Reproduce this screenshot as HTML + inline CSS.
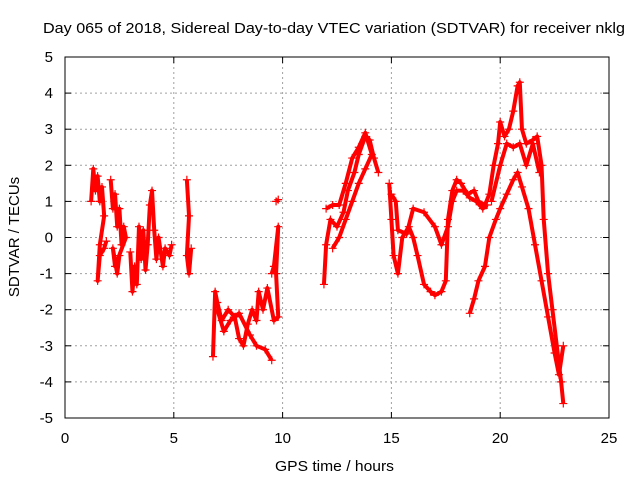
<!DOCTYPE html>
<html><head><meta charset="utf-8"><style>
body{margin:0;background:#fff;width:640px;height:480px;overflow:hidden}
text{font-family:"Liberation Sans",sans-serif;font-size:15px;fill:#000}
</style></head><body>
<svg id="chart" width="640" height="480" xmlns="http://www.w3.org/2000/svg">
<text x="43" y="33" textLength="582" lengthAdjust="spacingAndGlyphs">Day 065 of 2018, Sidereal Day-to-day VTEC variation (SDTVAR) for receiver nklg</text>
<g id="grid"></g>
<g id="axes"></g>
<g id="series"></g>
<rect x="65" y="57" width="544" height="361" fill="none" stroke="#000"/>
<text x="275" y="471" textLength="119" lengthAdjust="spacingAndGlyphs">GPS time / hours</text>
<text transform="translate(19,237) rotate(-90)" text-anchor="middle">SDTVAR / TECUs</text>
</svg>
<script>
const xTicks=[0,5,10,15,20,25];
const yTicks=[-5,-4,-3,-2,-1,0,1,2,3,4,5];
const traceA=[[1.2,1.0],[1.3,1.9],[1.4,1.3],[1.5,1.7],[1.6,1.0],[1.7,1.4],[1.8,0.6],[1.6,-0.2],[1.5,-1.2],[1.6,-0.5],[1.8,-0.3],[1.9,-0.1]];
const traceB=[[2.1,1.6],[2.2,0.8],[2.3,1.2],[2.4,0.3],[2.5,0.8],[2.6,-0.2],[2.7,0.3],[2.8,0.0],[2.3,-0.8],[2.2,-0.3],[2.4,-1.0],[2.5,-0.5]];
const traceC=[[3.0,-0.4],[3.1,-1.5],[3.2,-0.8],[3.3,-1.3],[3.4,0.3],[3.5,-0.6],[3.6,0.2],[3.7,-0.9],[3.8,-0.2],[3.9,0.9],[4.0,1.3],[4.1,0.2],[4.2,-0.6],[4.3,0.0],[4.5,-0.8],[4.6,-0.3],[4.8,-0.5],[4.9,-0.2]];
const traceD=[[5.6,1.6],[5.7,0.6],[5.6,-0.5],[5.7,-1.0],[5.8,-0.3]];
const traceE=[[6.8,-3.3],[6.9,-1.5],[7.0,-1.8],[7.2,-2.3],[7.5,-2.0],[7.8,-2.2],[8.0,-2.8],[8.2,-3.0],[8.4,-2.4],[8.6,-2.0],[8.8,-2.3],[8.9,-1.5],[9.1,-2.0],[9.3,-1.4],[9.6,-2.3],[9.8,-2.2],[9.7,-1.0],[9.8,0.3],[9.6,-0.8],[9.5,-1.0]];
const traceF=[[7.0,-2.0],[7.3,-2.6],[7.6,-2.3],[8.0,-2.1],[8.5,-2.7],[8.8,-3.0],[9.2,-3.1],[9.5,-3.4]];
const traceG=[[9.7,1.0],[9.8,1.05]];
const traceH=[[11.9,-1.3],[12.0,-0.2],[12.2,0.5],[12.5,0.3],[12.8,0.7],[13.0,1.3],[13.3,1.8],[13.5,2.3],[13.8,2.8],[14.0,2.7],[14.2,2.2],[14.4,1.8]];
const traceI=[[12.0,0.8],[12.3,0.9],[12.6,0.9],[12.9,1.5],[13.2,2.2],[13.5,2.5],[13.8,2.9],[14.1,2.3],[13.8,1.9],[13.5,1.5],[13.2,1.0],[12.9,0.5],[12.6,0.0],[12.3,-0.3]];
const traceJ=[[14.9,1.5],[15.0,0.5],[15.1,-0.5],[15.3,-1.0],[15.5,0.0],[15.8,0.3],[16.0,0.0],[16.2,-0.5],[16.5,-1.3],[16.8,-1.5],[17.0,-1.6],[17.3,-1.5],[17.5,-1.2],[17.6,0.5],[17.8,1.3],[18.0,1.6],[18.2,1.5],[18.5,1.2],[18.8,1.3],[19.0,1.0],[19.3,0.9],[19.5,1.2],[19.7,2.0],[19.9,2.6],[20.0,3.2],[20.2,2.8],[20.4,3.0],[20.6,3.5],[20.8,4.2],[20.9,4.3],[21.0,3.0],[21.2,2.6],[21.5,2.7],[21.7,2.8],[21.9,2.0],[22.0,0.5],[22.2,-1.0],[22.4,-2.0],[22.6,-3.0],[22.8,-4.0],[22.9,-4.6]];
const traceK=[[15.0,1.2],[15.2,1.0],[15.3,0.2],[15.7,0.1],[16.0,0.8],[16.5,0.7],[17.0,0.3],[17.3,-0.2],[17.6,0.3],[17.8,1.0],[18.0,1.3],[18.3,1.3],[18.6,1.1],[18.9,1.0],[19.2,0.8],[19.4,0.9]];
const traceL=[[18.6,-2.1],[18.8,-1.7],[19.0,-1.2],[19.3,-0.8],[19.5,0.0],[19.8,0.5],[20.0,0.8],[20.3,1.2],[20.6,1.6],[20.8,1.8],[21.0,1.4],[21.3,0.8],[21.6,-0.2],[21.9,-1.2],[22.2,-2.2],[22.5,-3.2],[22.7,-3.8],[22.9,-3.0]];
const traceM=[[19.6,1.0],[20.0,2.0],[20.3,2.6],[20.6,2.5],[20.9,2.6],[21.2,2.0],[21.5,2.6],[21.8,1.8]];
const traces=[traceA,traceB,traceC,traceD,traceE,traceF,traceG,traceH,traceI,traceJ,traceK,traceL,traceM];
const NS="http://www.w3.org/2000/svg";
const X=v=>65+v*(544/25), Y=v=>237.5-v*(361/10);
const grid=document.getElementById('grid'),axes=document.getElementById('axes'),ser=document.getElementById('series');
function mk(tag,attrs,parent){const e=document.createElementNS(NS,tag);for(const k in attrs)e.setAttribute(k,attrs[k]);parent.appendChild(e);return e;}
xTicks.forEach(t=>{const x=X(t);
 if(t>0&&t<25){const g=mk('line',{x1:x,x2:x,y1:57,y2:418,stroke:'#a0a0a0','stroke-dasharray':'2,3'},grid);
 
 }
 mk('line',{x1:x,x2:x,y1:418,y2:412,stroke:'#000'},axes);mk('line',{x1:x,x2:x,y1:57,y2:63,stroke:'#000'},axes);
 const l=mk('text',{x:x,y:443,'text-anchor':'middle'},axes);l.textContent=t;
 
 });
yTicks.forEach(t=>{const y=Y(t);
 if(t>-5&&t<5){const g=mk('line',{x1:65,x2:609,y1:y,y2:y,stroke:'#a0a0a0','stroke-dasharray':'2,3'},grid);
 
 }
 mk('line',{x1:65,x2:71,y1:y,y2:y,stroke:'#000'},axes);mk('line',{x1:603,x2:609,y1:y,y2:y,stroke:'#000'},axes);
 const l=mk('text',{x:53,y:y+5,'text-anchor':'end'},axes);l.textContent=t;
 
 });
traces.forEach(tr=>{
 const pl=mk('polyline',{points:tr.map(p=>X(p[0])+','+Y(p[1])).join(' '),fill:'none',stroke:'#f00','stroke-width':4,'stroke-linejoin':'round'},ser);
 
 
 tr.forEach(p=>{const x=X(p[0]),y=Y(p[1]);
  const m=mk('path',{d:`M${x-4},${y}h8M${x},${y-4}v8`,stroke:'#f00','stroke-width':1.2},ser);
  
  });
});
</script>
</body></html>
